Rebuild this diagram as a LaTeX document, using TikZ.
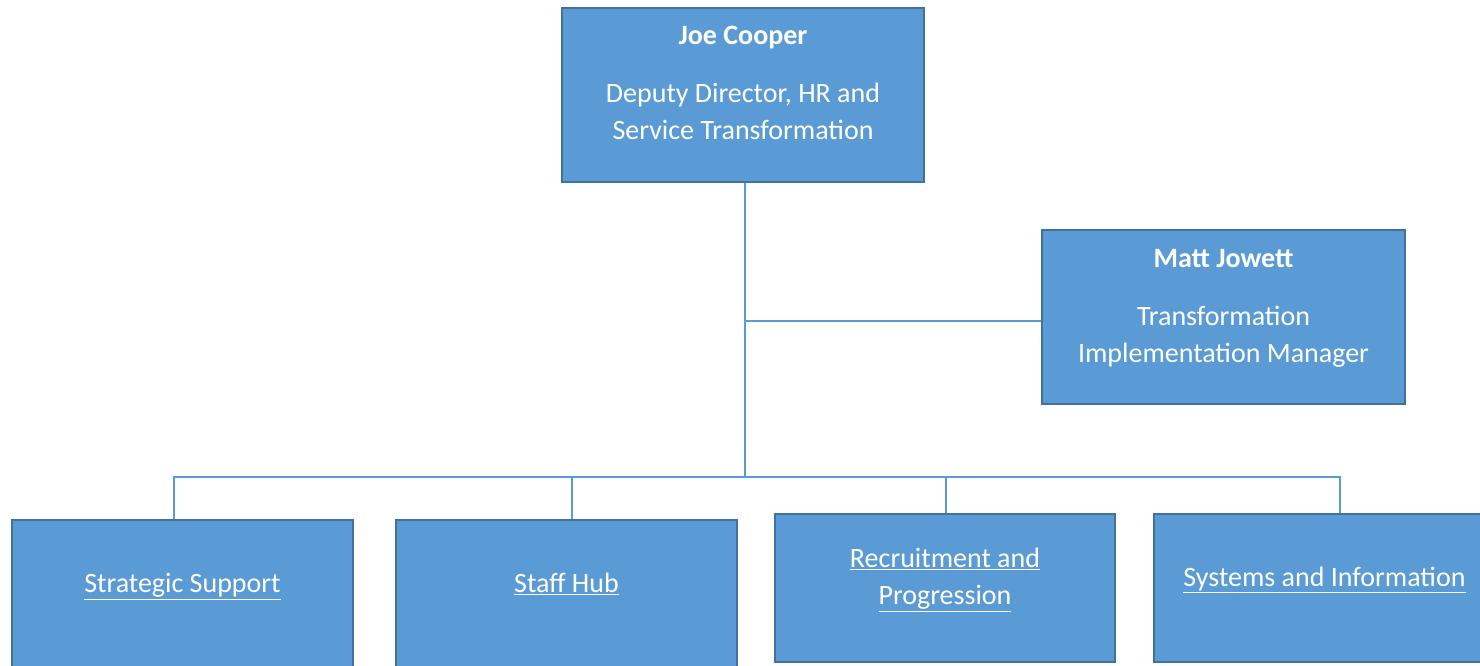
\documentclass[tikz,border=0pt]{standalone}
\usepackage{fontspec}
\setmainfont{Carlito}
\usetikzlibrary{positioning,calc}
\definecolor{boxblue}{RGB}{91,155,213}
\definecolor{edgeblue}{RGB}{65,113,156}
\definecolor{lineblue}{RGB}{91,155,213}

\tikzset{
  unit/.style={rectangle, draw=edgeblue, line width=2.5pt, fill=boxblue, minimum height=174pt},
  txt/.style={text=white, font=\fontsize{28}{37}\selectfont, align=center, anchor=base, inner sep=0pt},
  conn/.style={draw=lineblue, line width=1.5pt}
}

\begin{document}
\begin{tikzpicture}[x=1pt, y=-1pt]
				\useasboundingbox (0,0) rectangle (1480,666);
				\clip (0,0) rectangle (1480,666);
				% Director
				\node[unit, minimum width=362pt] (jc) at (743,95) {};
				\node[txt] (jcname) at ($(jc.north)+(0,38)$) {\textbf{Joe Cooper}};
				\node[txt] (jcrole) at ($(jc.north)+(0,133)$) {Deputy Director, HR and\\Service Transformation};
				
				% Manager
				\node[unit, minimum width=363pt] (mj) at (1223.5,317) {};
				\node[txt] (mjname) at ($(mj.north)+(0,39)$) {\textbf{Matt Jowett}};
				\node[txt] (mjrole) at ($(mj.north)+(0,134)$) {Transformation\\Implementation Manager};
				
				% Teams
				\node[unit, minimum width=341pt, minimum height=150pt] (ss) at (182.5,595) {};
				\node[unit, minimum width=341pt, minimum height=150pt] (sh) at (566.5,595) {};
				\node[unit, minimum width=340pt, minimum height=148pt] (rp) at (945,588) {};
				\node[unit, minimum width=341pt, minimum height=148pt] (si) at (1324.5,588) {};
				\node[txt] (sstext) at ($(ss.north)+(0,74)$) {\underline{Strategic Support}};
				\node[txt] (shtext) at ($(sh.north)+(0,74)$) {\underline{Staff Hub}};
				\node[txt] (rptext) at ($(rp.north)+(0,92)$) {\underline{Recruitment and}\\\underline{Progression}};
				\node[txt] (sitext) at ($(si.north)+(0,74)$) {\underline{Systems and Information}};
				
				\coordinate (bus) at (745,477);
				\coordinate (tee) at (745,321);
				\draw[conn] (jc.south -| bus) -- (bus);
				\draw[conn] (tee) -- (mj.west |- tee);
				\draw[conn] (ss.north -| 174,0) |- (bus) -| (si.north -| 1340,0);
				\draw[conn] (sh.north -| 572,0) -- (572,477);
				\draw[conn] (rp.north -| 946,0) -- (946,477);
			\end{tikzpicture}
\end{document}
